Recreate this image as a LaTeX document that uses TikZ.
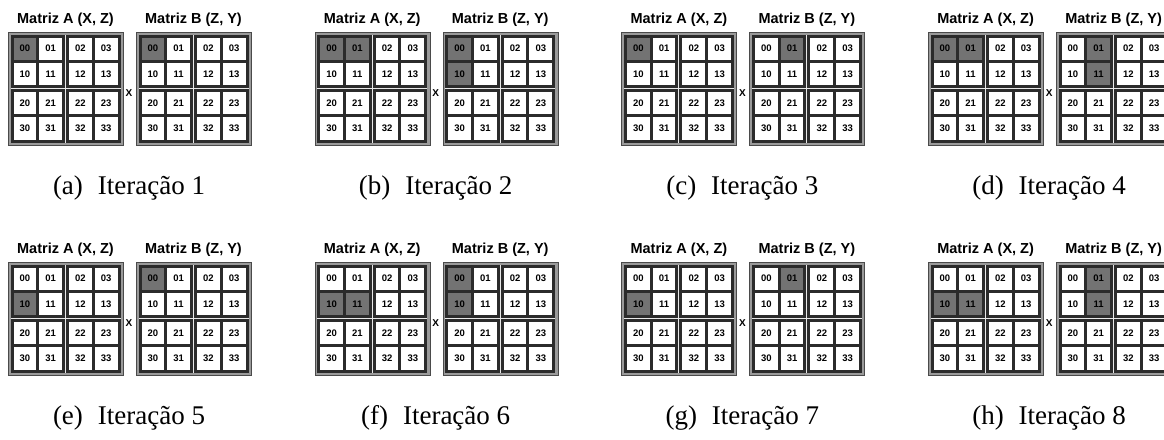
\documentclass[tikz,border=0pt]{standalone}
\usepackage{fontspec}
\setmainfont{Liberation Serif}
\setsansfont{Liberation Sans}

\definecolor{frameFill}{HTML}{9A9A9A}
\definecolor{frameEdge}{HTML}{4A4A4A}
\definecolor{blockDark}{HTML}{2B2B2B}
\definecolor{gapLight}{HTML}{E8E8E8}
\definecolor{hotGray}{HTML}{737373}

\tikzset{
  mframe/.style={fill=frameFill, draw=frameEdge, line width=1pt,
    minimum width=115pt, minimum height=113pt, inner sep=0pt},
  mblock/.style={fill=blockDark},
  mgap/.style={fill=gapLight},
  mcell/.style={draw=none, minimum width=22.75pt, minimum height=22.25pt,
    inner sep=0pt, text=black, font=\sffamily\bfseries\fontsize{9.5}{10}\selectfont},
  mtitle/.style={font=\sffamily\bfseries\fontsize{14.5}{16}\selectfont},
  mtimes/.style={font=\sffamily\bfseries\fontsize{10}{12}\selectfont},
  mcaption/.style={font=\fontsize{27}{30}\selectfont}
}

% One 4x4 matrix split in 2x2 blocks; #4 lists the shaded cells as rc,rc,...
\makeatletter
\newcommand\matgrid[4]{%
  \node[mframe, anchor=north west] (#1) at (#2,#3) {};
  \fill[mgap] ({#2+2.5},{#3+2.5}) rectangle ++(110,108);
  \foreach \br in {0,1}{\foreach \bc in {0,1}{
    \fill[mblock] ({#2+2.5+\bc*55.5},{#3+2.5+\br*54.5}) rectangle ++(54.5,53.5);
  }}
  \foreach \r in {0,...,3}{\foreach \c in {0,...,3}{
    \pgfmathsetmacro\cx{#2+2.5+floor(\c/2)*55.5+3+mod(\c,2)*25.75+11.375}
    \pgfmathsetmacro\cy{#3+2.5+floor(\r/2)*54.5+3+mod(\r,2)*25.25+11.125}
    \edef\hot@test{\noexpand\in@{,\r\c,}{,#4,}}\hot@test
    \ifin@\def\cellfill{hotGray}\else\def\cellfill{white}\fi
    \node[mcell, fill=\cellfill] (#1-\r\c) at (\cx,\cy) {\r\c};
  }}
}
\makeatother

\begin{document}
\begin{tikzpicture}[x=1pt,y=-1pt]
\useasboundingbox (0,0) rectangle (1164,439);
\foreach [count=\i from 0] \lab/\ha/\hb in {
    a/{00}/{00}, b/{00,01}/{00,10}, c/{00}/{01}, d/{00,01}/{01,11},
    e/{10}/{00}, f/{10,11}/{00,10}, g/{10}/{01}, h/{10,11}/{01,11}}{
  \pgfmathsetmacro\ox{8+306.7*mod(\i,4)}
  \pgfmathsetmacro\oy{32+230*floor(\i/4)}
  \pgfmathsetmacro\bx{\ox+128}
  \matgrid{A\lab}{\ox}{\oy}{\ha}
  \matgrid{B\lab}{\bx}{\oy}{\hb}
  \node[mtitle] (tA\lab) at ({\ox+57.5},{\oy-12}) {Matriz A (X, Z)};
  \node[mtitle] (tB\lab) at ({\bx+57.5},{\oy-12}) {Matriz B (Z, Y)};
  \node[mtimes] (x\lab) at ({\ox+121},{\oy+61}) {X};
  \node[mcaption] (cap\lab) at ({\ox+121},{\oy+156}) {(\lab)\hspace{0.55em}Iteração \the\numexpr\i+1\relax};
}
\end{tikzpicture}
\end{document}
